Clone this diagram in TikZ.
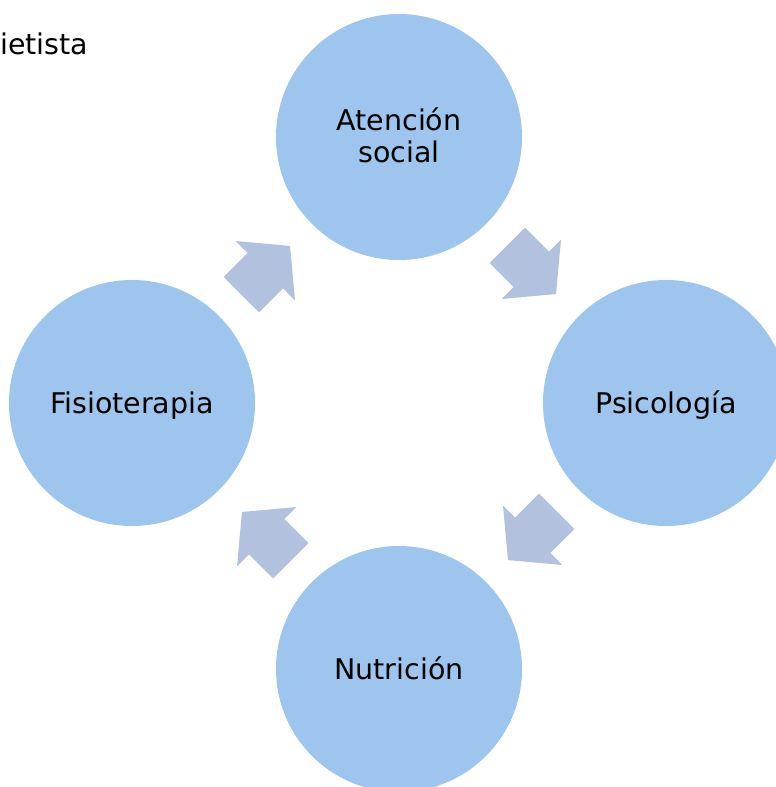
\documentclass[tikz,border=0pt]{standalone}
\usepackage{fontspec}
\setmainfont{DejaVu Sans}
\definecolor{bubblefill}{RGB}{157,197,237}
\definecolor{arrowfill}{RGB}{178,194,222}
\begin{document}
\begin{tikzpicture}[x=1pt,y=-1pt,
  bubble/.style={circle, fill=bubblefill, draw=none, minimum size=246pt, inner sep=0pt},
  lbl/.style={font=\fontsize{28.5}{31.5}\selectfont, text=black, inner sep=0pt, anchor=base, align=center},
  cyclearrow/.style={fill=arrowfill, draw=none}]
\useasboundingbox (0,0) rectangle (776,787);
\begin{scope}
\clip (0,0) rectangle (776,787);
\node[bubble] (aten) at (399,137) {};
\node[bubble] (psic) at (666,403) {};
\node[bubble] (nutr) at (399,669) {};
\node[bubble] (fisi) at (132,403) {};
\node[lbl] (atenT) at ([yshift=6.5pt]aten.center) {Atención};
\node[lbl] (atenS) at ([yshift=-25pt]aten.center) {social};
\node[lbl] (psicT) at ([yshift=-10pt]psic.center) {Psicología};
\node[lbl] (nutrT) at ([yshift=-10pt]nutr.center) {Nutrición};
\node[lbl] (fisiT) at ([yshift=-10pt]fisi.center) {Fisioterapia};
\foreach \cx/\cy/\ang in {266/270/45, 532/270/-45, 532/536/-135, 266/536/135}{
  \begin{scope}[shift={(\cx,\cy)}, rotate=\ang]
    \fill[cyclearrow] (-35,-25) -- (-1,-25) -- (-1,-42) -- (34,0) -- (-1,42) -- (-1,25) -- (-35,25) -- cycle;
  \end{scope}
}
\end{scope}
\node[lbl, anchor=base west] (diet) at (0,54) {ietista};
\end{tikzpicture}
\end{document}
